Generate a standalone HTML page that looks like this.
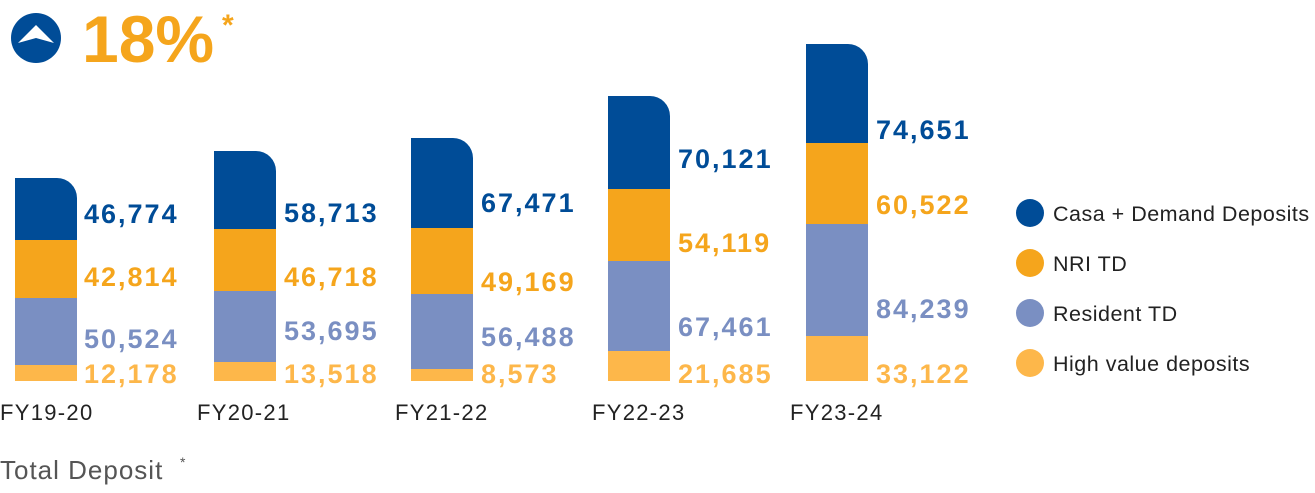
<!DOCTYPE html>
<html><head><style>
body{margin:0;width:1315px;height:488px;background:#fff;overflow:hidden;font-family:"Liberation Sans",sans-serif;}
</style></head><body>
<svg width="1315" height="488" viewBox="0 0 1315 488" xmlns="http://www.w3.org/2000/svg" font-family="Liberation Sans, sans-serif">
<circle cx="36" cy="38" r="25" fill="#004c97"/>
<path d="M18 43 L36 25 L54 43 L36 38 Z" fill="#fff"/>
<text x="82" y="62" font-size="66" font-weight="bold" fill="#f5a51c">18%</text>
<text x="222" y="35" font-size="30" font-weight="bold" fill="#f5a51c">*</text>
<path d="M15 381 V178 H57 A20 20 0 0 1 77 198 V381 Z" fill="#004c97"/>
<rect x="15" y="240" width="62" height="58" fill="#f5a51c"/><rect x="15" y="298" width="62" height="67" fill="#7a8fc2"/><rect x="15" y="365" width="62" height="16" fill="#fdb74a"/>
<path d="M214 381 V151 H256 A20 20 0 0 1 276 171 V381 Z" fill="#004c97"/>
<rect x="214" y="229" width="62" height="62" fill="#f5a51c"/><rect x="214" y="291" width="62" height="71" fill="#7a8fc2"/><rect x="214" y="362" width="62" height="19" fill="#fdb74a"/>
<path d="M411 381 V138 H453 A20 20 0 0 1 473 158 V381 Z" fill="#004c97"/>
<rect x="411" y="228" width="62" height="66" fill="#f5a51c"/><rect x="411" y="294" width="62" height="75" fill="#7a8fc2"/><rect x="411" y="369" width="62" height="12" fill="#fdb74a"/>
<path d="M608 381 V96 H650 A20 20 0 0 1 670 116 V381 Z" fill="#004c97"/>
<rect x="608" y="189" width="62" height="72" fill="#f5a51c"/><rect x="608" y="261" width="62" height="90" fill="#7a8fc2"/><rect x="608" y="351" width="62" height="30" fill="#fdb74a"/>
<path d="M806 381 V44 H848 A20 20 0 0 1 868 64 V381 Z" fill="#004c97"/>
<rect x="806" y="143" width="62" height="81" fill="#f5a51c"/><rect x="806" y="224" width="62" height="112" fill="#7a8fc2"/><rect x="806" y="336" width="62" height="45" fill="#fdb74a"/>
<g font-size="27" font-weight="bold" letter-spacing="2">
<text x="84" y="223" fill="#004c97">46,774</text><text x="84" y="286" fill="#f5a51c">42,814</text><text x="84" y="348" fill="#7a8fc2">50,524</text><text x="84" y="383" fill="#fdb74a">12,178</text>
<text x="284" y="222" fill="#004c97">58,713</text><text x="284" y="286" fill="#f5a51c">46,718</text><text x="284" y="340" fill="#7a8fc2">53,695</text><text x="284" y="383" fill="#fdb74a">13,518</text>
<text x="481" y="212" fill="#004c97">67,471</text><text x="481" y="291" fill="#f5a51c">49,169</text><text x="481" y="346" fill="#7a8fc2">56,488</text><text x="481" y="383" fill="#fdb74a">8,573</text>
<text x="678" y="168" fill="#004c97">70,121</text><text x="678" y="252" fill="#f5a51c">54,119</text><text x="678" y="336" fill="#7a8fc2">67,461</text><text x="678" y="383" fill="#fdb74a">21,685</text>
<text x="876" y="139" fill="#004c97">74,651</text><text x="876" y="214" fill="#f5a51c">60,522</text><text x="876" y="318" fill="#7a8fc2">84,239</text><text x="876" y="383" fill="#fdb74a">33,122</text>
</g>
<g font-size="22" fill="#222" letter-spacing="1.3">
<text x="0" y="420">FY19-20</text><text x="197" y="420">FY20-21</text><text x="395" y="420">FY21-22</text><text x="592" y="420">FY22-23</text><text x="790" y="420">FY23-24</text>
</g>
<circle cx="1030" cy="213" r="14" fill="#004c97"/><circle cx="1030" cy="263" r="14" fill="#f5a51c"/><circle cx="1030" cy="313" r="14" fill="#7a8fc2"/><circle cx="1030" cy="363" r="14" fill="#fdb74a"/>
<g font-size="21.5" fill="#222" letter-spacing="0.5">
<text x="1053" y="221">Casa + Demand Deposits</text><text x="1053" y="271">NRI TD</text><text x="1053" y="321">Resident TD</text><text x="1053" y="371">High value deposits</text>
</g>
<text x="0" y="479" font-size="26" fill="#555" letter-spacing="1">Total Deposit</text>
<text x="180" y="467" font-size="14" fill="#555">*</text>
</svg>
</body></html>
